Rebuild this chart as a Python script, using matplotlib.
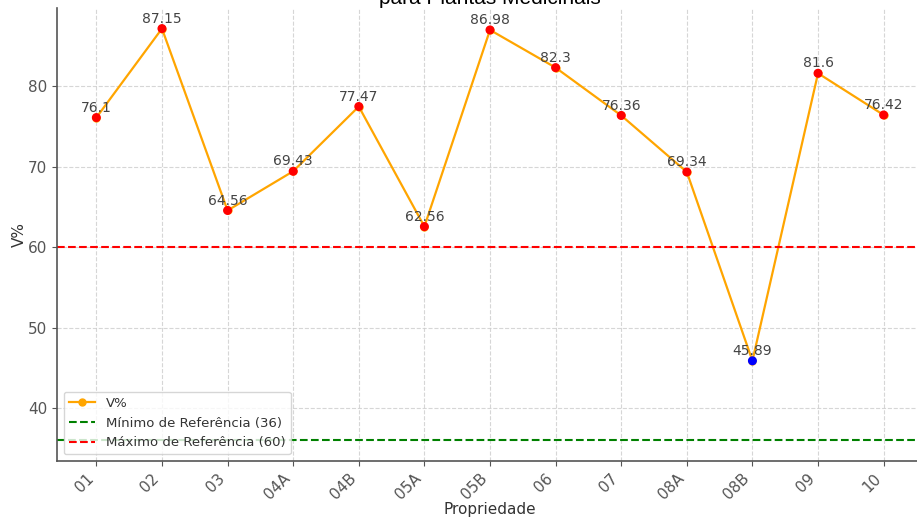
import matplotlib
matplotlib.use("Agg")
import matplotlib.pyplot as plt

# data
propriedades = ['01', '02', '03', '04A', '04B', '05A', '05B', '06', '07', '08A', '08B', '09', '10']
v_pct = [76.1, 87.15, 64.56, 69.43, 77.47, 62.56, 86.98, 82.3, 76.36, 69.34, 45.89, 81.6, 76.42]
minimo_ref = 36
maximo_ref = 60

cores = ['blue' if v < maximo_ref else 'red' for v in v_pct]

fig = plt.figure(figsize=(9.17, 5.19), dpi=100)
ax = fig.add_axes([57 / 917, 58 / 519, 866 / 917, 453 / 519])

x = list(range(len(propriedades)))
ax.plot(x, v_pct, color='orange', marker='o', markersize=5, linewidth=1.6, label='V%', zorder=2)
ax.scatter(x, v_pct, c=cores, s=30, zorder=3)
ax.axhline(minimo_ref, color='green', linestyle='--', linewidth=1.5, label='Mínimo de Referência (36)')
ax.axhline(maximo_ref, color='red', linestyle='--', linewidth=1.5, label='Máximo de Referência (60)')

for xi, v in zip(x, v_pct):
    ax.annotate(f'{v:g}', (xi, v), xytext=(0, 2), textcoords='offset points',
                ha='center', va='bottom', fontsize=10, color='#444444')

ax.set_xticks(x)
ax.set_xticklabels(propriedades, rotation=45, ha='right', fontsize=11, color='#333333')
ax.tick_params(axis='y', labelsize=11, labelcolor='#333333')
ax.tick_params(colors='#555555')
ax.set_xlabel('Propriedade', fontsize=11, color='#333333', labelpad=0)
ax.set_ylabel('V%', fontsize=11, color='#333333', labelpad=1)
ax.set_title('Saturação por Bases (V%) nas Propriedades\npara Plantas Medicinais',
             fontsize=15, family='Liberation Sans', pad=3)

ax.grid(True, linestyle='--', color='#cccccc', linewidth=0.8, alpha=0.8)
ax.spines['top'].set_visible(False)
ax.spines['right'].set_visible(False)
for s in ['left', 'bottom']:
    ax.spines[s].set_color('#555555')
    ax.spines[s].set_linewidth(1.2)

ax.legend(loc='lower left', fontsize=9.5, labelcolor='#333333')

fig.savefig('out.png', dpi=100)
